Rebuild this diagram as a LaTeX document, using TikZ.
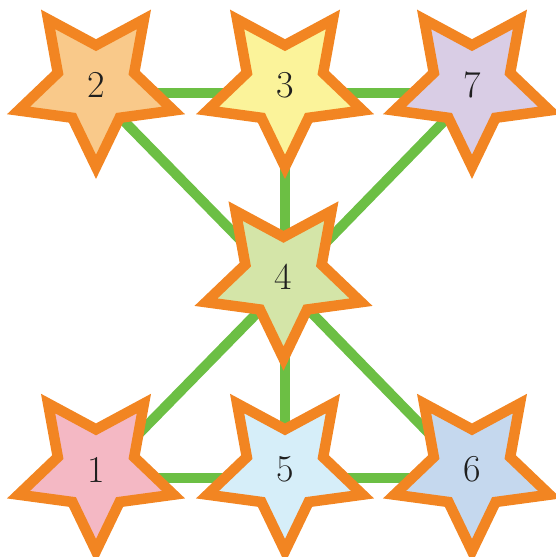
\documentclass[tikz,border=0pt]{standalone}
\usetikzlibrary{shapes.geometric}
\definecolor{edgegreen}{HTML}{6CBF44}
\definecolor{starorange}{HTML}{F28522}
\definecolor{fA}{HTML}{F4B8C4}
\definecolor{fB}{HTML}{F9C98A}
\definecolor{fC}{HTML}{FBF39A}
\definecolor{fD}{HTML}{D4E5A8}
\definecolor{fE}{HTML}{D6EEF9}
\definecolor{fF}{HTML}{C5D8EE}
\definecolor{fG}{HTML}{D9CDE5}
\tikzset{
  starnode/.style={star, star points=5, star point ratio=2.03, shape border rotate=180,
    minimum size=163pt, inner sep=0pt, draw=starorange, line width=10.5pt, line join=miter,
    font=\fontsize{38}{40}\selectfont, text=black!88},
  edge/.style={draw=edgegreen, line width=10pt},
}
\begin{document}
\begin{tikzpicture}[x=1pt,y=-1pt]
\useasboundingbox (0,0) rectangle (556,557);
% connector anchor points
\coordinate (p2) at (96,92.5);
\coordinate (p3) at (284.5,92.5);
\coordinate (p7) at (472,92.5);
\coordinate (p4) at (284.5,285);
\coordinate (p1) at (96,477.5);
\coordinate (p5) at (284.5,477.5);
\coordinate (p6) at (472,477.5);
\draw[edge] (p2) -- (p3);
\draw[edge] (p3) -- (p7);
\draw[edge] (p2) -- (p4);
\draw[edge] (p3) -- (p4);
\draw[edge] (p7) -- (p4);
\draw[edge] (p4) -- (p1);
\draw[edge] (p4) -- (p5);
\draw[edge] (p4) -- (p6);
\draw[edge] (p1) -- (p5);
\draw[edge] (p5) -- (p6);
\node[starnode, fill=fB] (s2) at (96,85.3) {2};
\node[starnode, fill=fC] (s3) at (285,85.3) {3};
\node[starnode, fill=fG] (s7) at (472,85.3) {7};
\node[starnode, fill=fD] (s4) at (283.5,277) {4};
\node[starnode, fill=fA] (s1) at (96,469.5) {1};
\node[starnode, fill=fE] (s5) at (285,469.5) {5};
\node[starnode, fill=fF] (s6) at (472,469.5) {6};
\end{tikzpicture}
\end{document}
